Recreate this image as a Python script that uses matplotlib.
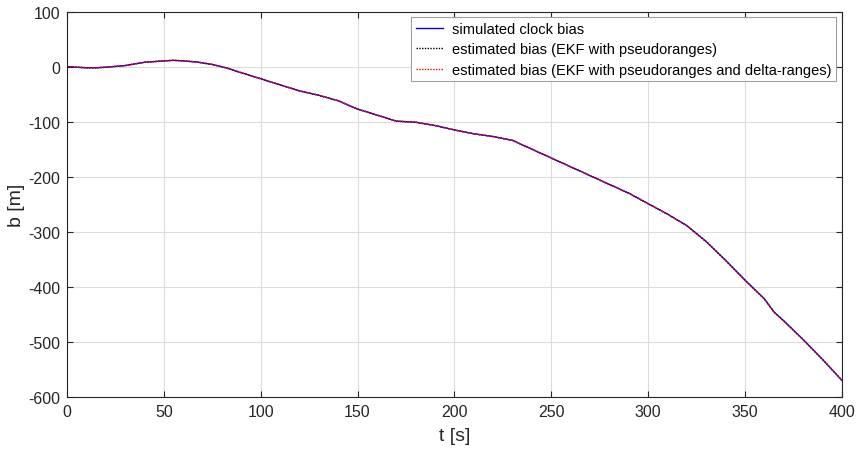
import matplotlib
matplotlib.use("Agg")
import matplotlib.pyplot as plt

plt.rcParams['font.family'] = ['Liberation Sans', 'DejaVu Sans']
plt.rcParams['axes.unicode_minus'] = False

t = [0, 5, 10, 15, 20, 30, 40, 50, 55, 60, 67, 75, 82, 90, 100, 110, 120, 130,
     140, 150, 160, 170, 180, 190, 200, 210, 220, 230, 240, 250, 260, 270, 280,
     290, 300, 310, 320, 330, 340, 350, 360, 365, 370, 380, 390, 400]
b_sim = [0, -1, -2, -2, -1, 2, 8, 10.5, 11.5, 10.5, 8.5, 4, -2, -11, -22, -33, -44, -52,
         -62, -77, -88, -99, -101, -107, -115, -122, -127, -134, -150, -166, -182, -198, -214,
         -230, -249, -268, -289, -318, -352, -388, -422, -446, -462, -496, -532, -570]
b_ekf_pr = list(b_sim)
b_ekf_prdr = list(b_sim)

fig, ax = plt.subplots(figsize=(8.59, 4.52), dpi=100)
ax.plot(t, b_sim, color='#0000ff', lw=1.0, label='simulated clock bias')
ax.plot(t, b_ekf_pr, color='black', lw=1.0, ls=(0, (1, 1)), label='estimated bias (EKF with pseudoranges)')
ax.plot(t, b_ekf_prdr, color='red', lw=1.0, ls=(0, (1, 1)), label='estimated bias (EKF with pseudoranges and delta-ranges)')

ax.set_xlim(0, 400)
ax.set_ylim(-600, 100)
ax.set_xticks(range(0, 401, 50))
ax.set_yticks(range(-600, 101, 100))
ax.grid(True, color='#dcdcdc', lw=0.8)
ax.tick_params(direction='in', top=True, right=True, labelsize=11.5, length=4,
               colors='#262626', pad=5)
for s in ax.spines.values():
    s.set_color('#262626')
ax.set_xlabel('t [s]', fontsize=14, color='#262626', labelpad=6)
ax.set_ylabel('b [m]', fontsize=14, color='#262626', labelpad=2)
leg = ax.legend(loc='upper right', fontsize=10.5, fancybox=False, framealpha=1,
                edgecolor='#a0a0a0', handlelength=1.9, borderaxespad=0.4,
                labelspacing=0.45, borderpad=0.3, handletextpad=0.6)
leg.get_frame().set_linewidth(0.8)

plt.subplots_adjust(left=0.078, right=0.98, top=0.972, bottom=0.12)
plt.savefig('out.png', dpi=100)
